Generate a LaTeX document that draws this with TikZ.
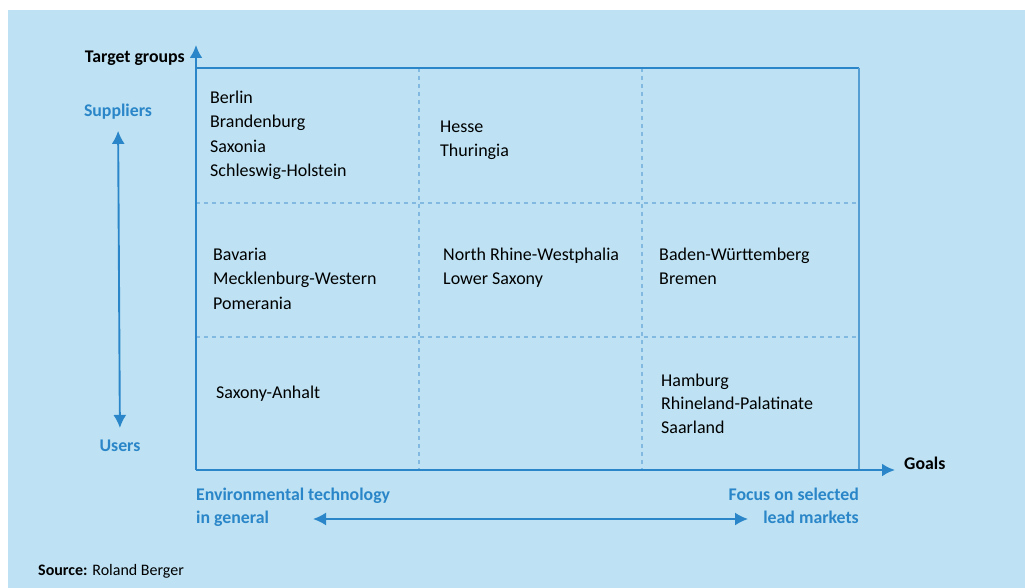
\documentclass[tikz,border=0pt]{standalone}
\usepackage{fontspec}
\setmainfont{Carlito}
\usepackage{tikz}
\usetikzlibrary{arrows.meta,positioning,calc}
\definecolor{panel}{HTML}{BEE2F3}
\definecolor{rbblue}{HTML}{2A86C8}
\definecolor{gridblue}{HTML}{82B9E0}
\begin{document}
\begin{tikzpicture}[x=1pt,y=-1pt,
  every node/.style={inner sep=0pt,font=\fontsize{18}{24.5}\selectfont},
  region/.style={anchor=north west,align=left},
  heading/.style={font=\fontsize{17.8}{23}\selectfont\bfseries},
  pole/.style={heading,text=rbblue},
  axis/.style={->,>={Latex[length=13pt,width=13pt]},rbblue,line width=2.4pt},
  to/.style={<->,>={Latex[length=13pt,width=13pt]},rbblue,line width=1.9pt},
  cellline/.style={gridblue,dash pattern=on 4pt off 4pt,line width=1.4pt}]

    \useasboundingbox (0,0) rectangle (1025,588);
    \fill[panel] (8,10) rectangle (1025,588);

    \coordinate (o) at (196,470);
    \coordinate (ytip) at (196,45);
    \coordinate (xtip) at (895,470);
    \coordinate (tr) at (859,68);

    \draw[cellline] (419,68) -- (419,470);
    \draw[cellline] (642,68) -- (642,470);
    \draw[cellline] (196,203) -- (859,203);
    \draw[cellline] (196,337) -- (859,337);
    \draw[rbblue,line width=2pt] (196,68) -- (tr);
    \draw[rbblue!80,line width=1.4pt] (tr) -- (859,470);
    \draw[axis] (o) -- (ytip);
    \draw[axis] (o) -- (xtip);

    \node[region] (c11) at (210,90.7) {Berlin\\Brandenburg\\Saxonia\\Schleswig-Holstein};
    \node[region] (c12) at (440,120.7) {Hesse\\Thuringia};
    \node[region] (c21) at (213,247.7) {Bavaria\\Mecklenburg-Western\\Pomerania};
    \node[region] (c22) at (443,247.7) {North Rhine-Westphalia\\Lower Saxony};
    \node[region] (c23) at (659,247.7) {Baden-Württemberg\\Bremen};
    \node[region] (c31) at (216,385.7) {Saxony-Anhalt};
    \node[region,font=\fontsize{18}{23.5}\selectfont] (c33) at (661,373.7) {Hamburg\\Rhineland-Palatinate\\Saarland};

    \node[heading,anchor=east] (tg) at (185,58) {Target groups};
    \node[heading,anchor=west] (goals) at (904,463) {Goals};

    \node[pole] (sup) at (118,112) {Suppliers};
    \node[pole] (usr) at (120,446) {Users};
    \draw[to,shorten <=11pt,shorten >=12pt] (sup) -- (usr);

    \node[pole,anchor=north west,align=left] (gen) at (196,488) {Environmental technology\\in general};
    \node[pole,anchor=north east,align=right] (lead) at (859,488) {Focus on selected\\lead markets};
    \coordinate (hl) at (313,519);
    \coordinate (hr) at (748,519);
    \draw[to] (hl) -- (hr);

    \node[anchor=west,font=\fontsize{16}{18}\selectfont] (src) at (38,571) {\textbf{Source:} Roland Berger};
\end{tikzpicture}
\end{document}
